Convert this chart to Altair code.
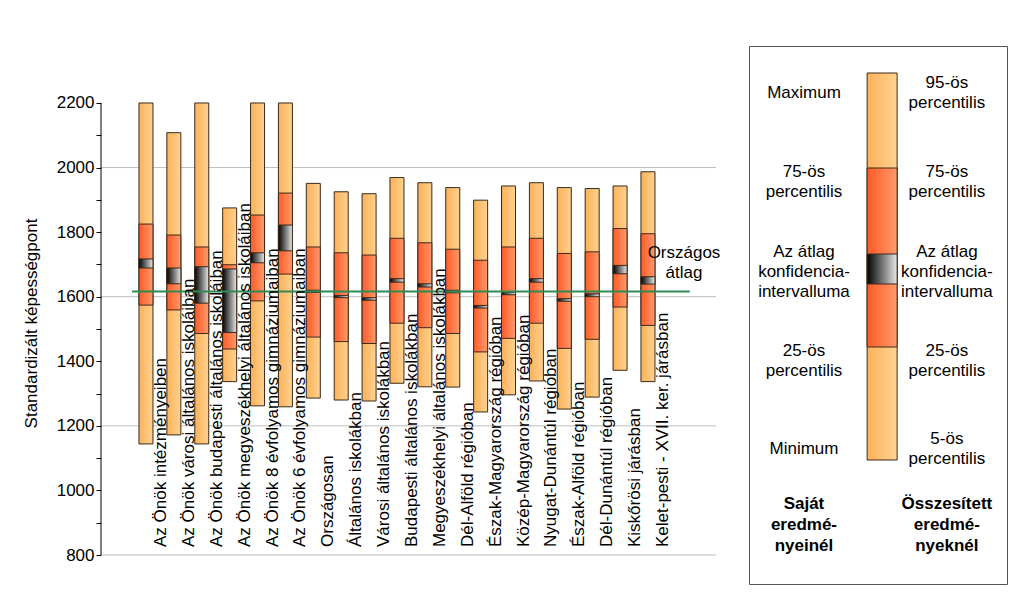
import altair as alt
import pandas as pd

FONT = "Liberation Sans"

categories = [
    "Az Önök intézményeiben",
    "Az Önök városi általános iskoláiban",
    "Az Önök budapesti általános iskoláiban",
    "Az Önök megyeszékhelyi általános iskoláiban",
    "Az Önök 8 évfolyamos gimnáziumaiban",
    "Az Önök 6 évfolyamos gimnáziumaiban",
    "Országosan",
    "Általános iskolákban",
    "Városi általános iskolákban",
    "Budapesti általános iskolákban",
    "Megyeszékhelyi általános iskolákban",
    "Dél-Alföld régióban",
    "Észak-Magyarország régióban",
    "Közép-Magyarország régióban",
    "Nyugat-Dunántúl régióban",
    "Észak-Alföld régióban",
    "Dél-Dunántúl régióban",
    "Kiskőrösi járásban",
    "Kelet-pesti - XVII. ker. járásban",
]
p_max = [2200, 2108, 2200, 1875, 2200, 2200, 1951, 1925, 1919, 1969, 1953, 1938, 1899, 1943, 1953, 1938, 1935, 1943, 1987]
p75 = [1825, 1791, 1754, 1699, 1853, 1921, 1754, 1736, 1729, 1781, 1767, 1747, 1713, 1754, 1781, 1734, 1739, 1811, 1795]
ci_hi = [1717, 1689, 1693, 1686, 1736, 1822, 1620, 1604, 1597, 1656, 1640, 1620, 1573, 1614, 1656, 1594, 1609, 1697, 1662]
ci_lo = [1689, 1640, 1580, 1489, 1705, 1742, 1613, 1597, 1589, 1645, 1630, 1612, 1565, 1606, 1645, 1586, 1600, 1671, 1639]
p25 = [1574, 1559, 1486, 1438, 1587, 1670, 1475, 1461, 1455, 1518, 1504, 1486, 1429, 1471, 1518, 1440, 1468, 1568, 1511]
p_min = [1144, 1172, 1144, 1337, 1262, 1259, 1286, 1280, 1277, 1332, 1321, 1320, 1243, 1296, 1339, 1252, 1289, 1372, 1337]
national_avg = 1616
avg_label = "Országos\nátlag"

y_ticks = list(range(800, 2201, 100))
grid_values = [800, 1200, 1600, 2000]

# legend content
legend_bounds = [27, 122, 208, 238, 301, 414]
legend_left = ["Maximum", "75-ös\npercentilis", "Az átlag\nkonfidencia-\nintervalluma", "25-ös\npercentilis", "Minimum"]
legend_right = ["95-ös\npercentilis", "75-ös\npercentilis", "Az átlag\nkonfidencia-\nintervalluma", "25-ös\npercentilis", "5-ös\npercentilis"]
legend_rows = [47, 136, 226, 315, 403]
legend_heads = ["Saját\neredmé-\nnyeinél", "Összesített\neredmé-\nnyeknél"]
legend_head_row = 479
LH = 20
LH_HEAD = 21

PLOT_W = 615
PLOT_H = 509


def grad(c0, c1):
    return {"gradient": "linear", "x1": 0, "x2": 1, "y1": 0, "y2": 0,
            "stops": [{"offset": 0, "color": c0}, {"offset": 1, "color": c1}]}


ORANGE = grad("#fbb15a", "#ffd28f")
RED = grad("#ff5a28", "#ff9a6a")
CI = grad("#000000", "#e8e8e8")
EDGE = "#3a2a1a"

df = pd.DataFrame({
    "cat": categories, "idx": list(range(len(categories))),
    "p_max": p_max, "p75": p75, "ci_hi": ci_hi, "ci_lo": ci_lo, "p25": p25, "p_min": p_min,
})

x_scale = alt.Scale(domain=[-1.613, 20.44], nice=False, zero=False, padding=0)
y_scale = alt.Scale(domain=[800, 2376.5], nice=False, zero=False)
y_axis = alt.Axis(
    values=y_ticks, format="d",
    labelExpr="datum.value % 200 === 0 ? datum.label : ''",
    grid=False, domain=False, tickSize=5, tickColor="#000", labelPadding=2,
    labelFont=FONT, labelFontSize=17, labelColor="#000",
    titleFont=FONT, titleFontSize=17, titleFontWeight="normal", titleColor="#000",
    titlePadding=16, titleY=277,
)
TITLE = "Standardizált képességpont"


def Y(field):
    return alt.Y(field, scale=y_scale, axis=y_axis, title=TITLE)


X = alt.X("idx:Q", scale=x_scale, axis=None)

base = alt.Chart(df)

grid = alt.Chart(pd.DataFrame({"g": grid_values})).mark_rule(color="#bdbdbd", strokeWidth=1).encode(
    x=alt.value(0), x2=alt.value(PLOT_W), y=Y("g:Q"))
axis_line = alt.Chart(pd.DataFrame({"lo": [800], "hi": [2200]})).mark_rule(color="#000", strokeWidth=1).encode(
    x=alt.value(0), y=Y("lo:Q"), y2="hi:Q")

orange = base.mark_bar(size=14, fill=ORANGE, stroke=EDGE, strokeWidth=1).encode(x=X, y=Y("p_min:Q"), y2="p_max:Q")
red = base.mark_bar(size=14, fill=RED, stroke=EDGE, strokeWidth=1).encode(x=X, y=Y("p25:Q"), y2="p75:Q")
ci = base.mark_bar(size=14, fill=CI, stroke=EDGE, strokeWidth=1).encode(x=X, y=Y("ci_lo:Q"), y2="ci_hi:Q")

avg_df = pd.DataFrame({"avg": [national_avg], "x0": [-0.5], "x1": [19.5], "lab": [avg_label]})
avg_line = alt.Chart(avg_df).mark_rule(color="#2e8a50", strokeWidth=2).encode(
    x=alt.X("x0:Q", scale=x_scale, axis=None), x2="x1:Q", y=Y("avg:Q"))
avg_text = alt.Chart(avg_df).mark_text(font=FONT, fontSize=17, lineBreak="\n", lineHeight=20,
                                       align="center", baseline="middle", color="#000").encode(
    x=alt.value(583), y=alt.value(207), text="lab:N")

labels = base.mark_text(font=FONT, fontSize=17, angle=270, align="left", baseline="middle",
                        dy=15, color="#000").encode(x=X, y=alt.value(501), text="cat:N")

main = alt.layer(grid, axis_line, orange, red, ci, avg_line, labels, avg_text).properties(
    width=PLOT_W, height=PLOT_H, view=alt.ViewBackground(stroke=None))

# legend panel
lx = alt.Scale(domain=[0, 1], nice=False, zero=False, padding=0)
ly = alt.Scale(domain=[0, 538], reverse=True, nice=False, zero=False)
seg = pd.DataFrame({"y0": [legend_bounds[0], legend_bounds[1], legend_bounds[2]],
                    "y1": [legend_bounds[5], legend_bounds[4], legend_bounds[3]],
                    "k": ["o", "r", "c"], "xc": [0.516] * 3})
LX = alt.X("xc:Q", scale=lx, axis=None)
LY = lambda f: alt.Y(f, scale=ly, axis=None)
l_or = alt.Chart(seg).transform_filter("datum.k == 'o'").mark_bar(size=30, fill=ORANGE, stroke=EDGE, strokeWidth=1).encode(x=LX, y=LY("y0:Q"), y2="y1:Q")
l_rd = alt.Chart(seg).transform_filter("datum.k == 'r'").mark_bar(size=30, fill=RED, stroke=EDGE, strokeWidth=1).encode(x=LX, y=LY("y0:Q"), y2="y1:Q")
l_ci = alt.Chart(seg).transform_filter("datum.k == 'c'").mark_bar(size=30, fill=CI, stroke=EDGE, strokeWidth=1).encode(x=LX, y=LY("y0:Q"), y2="y1:Q")


def first_line_y(texts, centers, lh):
    # multi-line text is anchored at its first line: shift so the block is centred
    return [c - t.count("\n") * lh / 2 for t, c in zip(texts, centers)]


ltexts = legend_left + legend_right
ltxt = pd.DataFrame({
    "t": ltexts,
    "yy": first_line_y(ltexts, legend_rows + legend_rows, LH),
    "xc": [0.213] * len(legend_left) + [0.767] * len(legend_right),
})
l_text = alt.Chart(ltxt).mark_text(font=FONT, fontSize=17, lineBreak="\n", lineHeight=LH, align="center",
                                   baseline="middle", color="#000").encode(x=LX, y=LY("yy:Q"), text="t:N")
htxt = pd.DataFrame({"t": legend_heads,
                     "yy": first_line_y(legend_heads, [legend_head_row] * 2, LH_HEAD),
                     "xc": [0.213, 0.767]})
h_text = alt.Chart(htxt).mark_text(font=FONT, fontSize=17, fontWeight="bold", lineBreak="\n", lineHeight=LH_HEAD,
                                   align="center", baseline="middle", color="#000").encode(x=LX, y=LY("yy:Q"), text="t:N")

legend = alt.layer(l_or, l_rd, l_ci, l_text, h_text).properties(
    width=258, height=538, view=alt.ViewBackground(stroke="#555555", strokeWidth=1))

chart = alt.hconcat(main, legend, spacing=27).properties(
    padding={"left": 14, "top": 37, "right": 0, "bottom": 0}
).configure(background="white")

chart.save("out.html", embed_options={"renderer": "svg", "actions": False})
